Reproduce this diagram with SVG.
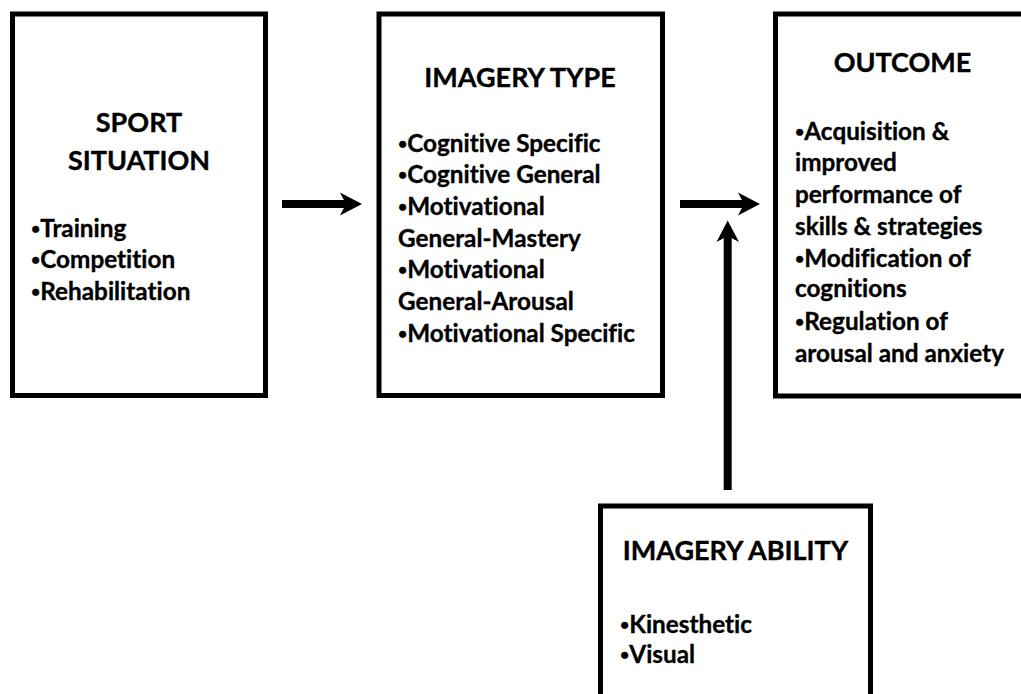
<svg xmlns="http://www.w3.org/2000/svg" width="1021" height="694" viewBox="0 0 1021 694">
<style>
.box{fill:#fff;stroke:#000;stroke-width:5}
.t{font-family:Lato,"Liberation Sans",sans-serif;font-weight:bold;fill:#000;stroke:#000;stroke-width:0.35;font-variant-ligatures:none;font-feature-settings:"liga" 0,"dlig" 0}
.title{font-size:27px;text-anchor:middle}
.body{font-size:24.3px}
.b{font-size:16px}
.line{stroke:#000;stroke-width:8;fill:none}
.head{fill:#000}
</style>
<rect width="1021" height="694" fill="#fff"/>
<g id="sport-situation">
<rect class="box" x="12.5" y="14" width="253" height="381.5"/>
<text class="t title" x="139" y="131.5">SPORT</text>
<text class="t title" x="139" y="170">SITUATION</text>
<text class="t body" x="31" y="236.5"><tspan class="b" dy="-3">•</tspan><tspan dy="3">Training</tspan></text>
<text class="t body" x="31" y="268.3"><tspan class="b" dy="-3">•</tspan><tspan dy="3">Competition</tspan></text>
<text class="t body" x="31" y="300"><tspan class="b" dy="-3">•</tspan><tspan dy="3">Rehabilitation</tspan></text>
</g>
<g id="imagery-type">
<rect class="box" x="379" y="14" width="283.5" height="381.5"/>
<text class="t title" x="520" y="87">IMAGERY TYPE</text>
<text class="t body" x="398" y="151.7"><tspan class="b" dy="-3">•</tspan><tspan dy="3">Cognitive Specific</tspan></text>
<text class="t body" x="398" y="183.3"><tspan class="b" dy="-3">•</tspan><tspan dy="3">Cognitive General</tspan></text>
<text class="t body" x="398" y="215"><tspan class="b" dy="-3">•</tspan><tspan dy="3">Motivational</tspan></text>
<text class="t body" x="398" y="246.5">General-Mastery</text>
<text class="t body" x="398" y="278"><tspan class="b" dy="-3">•</tspan><tspan dy="3">Motivational</tspan></text>
<text class="t body" x="398" y="309.5">General-Arousal</text>
<text class="t body" x="398" y="341.5"><tspan class="b" dy="-3">•</tspan><tspan dy="3">Motivational Specific</tspan></text>
</g>
<g id="outcome">
<rect class="box" x="775.5" y="14" width="254" height="382"/>
<text class="t title" x="902.5" y="72">OUTCOME</text>
<text class="t body" x="795" y="139.5"><tspan class="b" dy="-3">•</tspan><tspan dy="3">Acquisition &amp;</tspan></text>
<text class="t body" x="795" y="171">improved</text>
<text class="t body" x="795" y="203">performance of</text>
<text class="t body" x="795" y="235">skills &amp; strategies</text>
<text class="t body" x="795" y="266.7"><tspan class="b" dy="-3">•</tspan><tspan dy="3">Modification of</tspan></text>
<text class="t body" x="795" y="297">cognitions</text>
<text class="t body" x="795" y="330"><tspan class="b" dy="-3">•</tspan><tspan dy="3">Regulation of</tspan></text>
<text class="t body" x="795" y="361.7">arousal and anxiety</text>
</g>
<g id="imagery-ability">
<rect class="box" x="600.5" y="506" width="270" height="200"/>
<text class="t title" x="735.5" y="560">IMAGERY ABILITY</text>
<text class="t body" x="620" y="632.7"><tspan class="b" dy="-3">•</tspan><tspan dy="3">Kinesthetic</tspan></text>
<text class="t body" x="620" y="663.3"><tspan class="b" dy="-3">•</tspan><tspan dy="3">Visual</tspan></text>
</g>
<g id="connectors">
<line class="line" x1="282" y1="204" x2="346" y2="204"/>
<path class="head" d="M340,192.5 L362,204 L340,215.5 L346,204 Z"/>
<line class="line" x1="680" y1="204" x2="744" y2="204"/>
<path class="head" d="M738,192.5 L760,204 L738,215.5 L744,204 Z"/>
<line class="line" x1="727.7" y1="490" x2="727.7" y2="236"/>
<path class="head" d="M716.5,242 L727.7,220.5 L739,242 L727.7,236 Z"/>
</g>
</svg>
